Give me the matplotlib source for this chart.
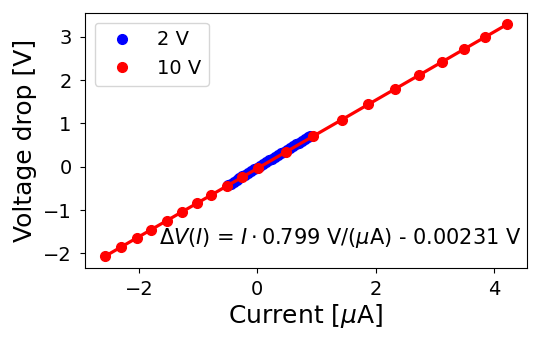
import matplotlib
matplotlib.use("Agg")
import matplotlib.pyplot as plt

# 2 V sweep (current in uA, voltage drop in V)
i_2v = [-0.50, -0.45, -0.40, -0.35, -0.30, -0.25, -0.20, -0.15, -0.10, -0.05,
        0.00, 0.05, 0.10, 0.15, 0.20, 0.25, 0.30, 0.35, 0.40, 0.45,
        0.50, 0.55, 0.60, 0.65, 0.70, 0.75, 0.80, 0.85, 0.90]
v_2v = [-0.430, -0.389, -0.348, -0.307, -0.266, -0.225, -0.184, -0.143, -0.102, -0.061,
        -0.020, 0.021, 0.062, 0.103, 0.144, 0.185, 0.226, 0.267, 0.308, 0.349,
        0.390, 0.431, 0.472, 0.513, 0.554, 0.595, 0.636, 0.677, 0.718]

# 10 V sweep
i_10v = [-2.575, -2.31, -2.04, -1.79, -1.53, -1.28, -1.02, -0.78, -0.51, -0.26,
         0.01, 0.48, 0.94, 1.43, 1.88, 2.33, 2.74, 3.13, 3.50, 3.85, 4.22]
v_10v = [-2.067, -1.858, -1.645, -1.449, -1.244, -1.047, -0.843, -0.654, -0.441, -0.245,
         -0.032, 0.338, 0.700, 1.085, 1.440, 1.794, 2.116, 2.423, 2.715, 2.990, 3.281]

x_ticks = [-2, 0, 2, 4]
y_ticks = [-2, -1, 0, 1, 2, 3]

fit_text = r"$\Delta V(I)$ = $I\cdot$0.799 V/($\mu$A) - 0.00231 V"

fig, ax = plt.subplots(figsize=(5.4, 3.48), dpi=100)
fig.subplots_adjust(left=0.157, right=0.976, top=0.963, bottom=0.23)

ax.plot(i_2v, v_2v, 'o', color='blue', markersize=7, label='2 V')
ax.plot(i_10v, v_10v, 'o', color='red', markersize=7, label='10 V')
ax.plot(i_10v, v_10v, '-', color='red', linewidth=2.3)

ax.text(0.988, 0.07, fit_text, transform=ax.transAxes, ha='right', va='bottom', fontsize=15)

ax.set_xticks(x_ticks)
ax.set_yticks(y_ticks)
ax.set_xlabel(r"Current [$\mu$A]", fontsize=18, labelpad=2)
ax.set_ylabel("Voltage drop [V]", fontsize=18, labelpad=4)
ax.tick_params(labelsize=14)
ax.tick_params(axis='x', pad=5)
ax.tick_params(axis='y', pad=6)
ax.legend(loc='upper left', fontsize=14)

fig.savefig("out.png")
